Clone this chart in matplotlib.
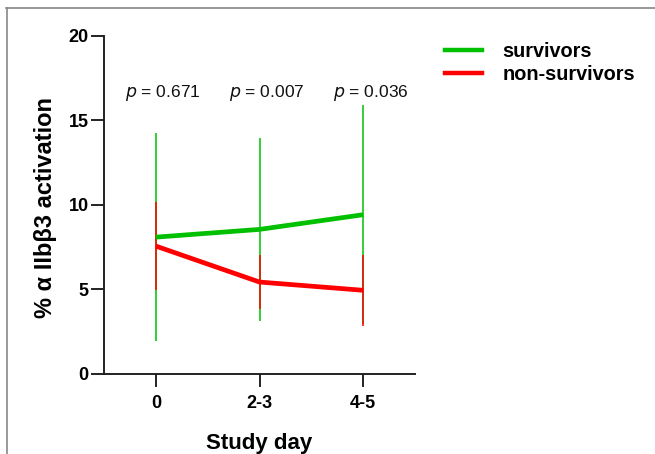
import numpy as np
import matplotlib.pyplot as plt
from matplotlib.lines import Line2D

plt.rcParams['font.family'] = ['Liberation Sans', 'DejaVu Sans']

# study days and group means / SD
days = ['0', '2-3', '4-5']
surv_mean = [8.08, 8.54, 9.41]
surv_sd = [6.15, 5.4, 6.5]
nonsurv_mean = [7.55, 5.42, 4.93]
nonsurv_sd = [2.63, 1.6, 2.1]
p_values = ['0.671', '0.007', '0.036']

green = '#00c000'
red = '#ff0000'

x = np.arange(len(days))

fig = plt.figure(figsize=(6.55, 4.54), dpi=100)
ax = fig.add_axes([104/655, 1-373.5/454, (415-104)/655, (373.5-36)/454])

# error bars first, no caps
ax.errorbar(x, surv_mean, yerr=surv_sd, fmt='none', ecolor=green, elinewidth=1.1, capsize=0, zorder=2)
ax.errorbar(x, nonsurv_mean, yerr=nonsurv_sd, fmt='none', ecolor=red, elinewidth=1.1, capsize=0, zorder=3)
ax.plot(x, surv_mean, color=green, lw=3.4, solid_capstyle='butt', zorder=4)
ax.plot(x, nonsurv_mean, color=red, lw=3.4, solid_capstyle='butt', zorder=4)

# p values above each day
for xi, p in zip(x, p_values):
    ax.text(xi + 0.07, 16.6, '$\\it{p}$ = ' + p, ha='center', va='center', fontsize=12.5, color='#111111')

ax.set_xlim(-0.5, 2.5)
ax.set_ylim(0, 20)
ax.set_yticks([0, 5, 10, 15, 20])
ax.set_xticks(x)
ax.set_xticklabels(days)
for sp in ['top', 'right']:
    ax.spines[sp].set_visible(False)
for sp in ['left', 'bottom']:
    ax.spines[sp].set_linewidth(1.4)
    ax.spines[sp].set_color('#222222')
ax.tick_params(length=9.5, width=1.4, color='#222222', labelsize=13)
ax.tick_params(axis='y', pad=1.5)
ax.tick_params(axis='x', pad=6)
for lab in ax.get_xticklabels() + ax.get_yticklabels():
    lab.set_fontweight('bold')

fig.text(259.5/655, 1-443/454, 'Study day', fontsize=16, fontweight='bold', ha='center', va='center')
fig.text(46/655, 1-207/454, '% α IIbβ3 activation', fontsize=17, fontweight='bold',
         rotation=90, ha='center', va='center')

handles = [Line2D([], [], color=green, lw=3.2), Line2D([], [], color=red, lw=3.2)]
fig.legend(handles, ['survivors', 'non-survivors'], loc='upper left',
           bbox_to_anchor=(445/655, 1-42/454), frameon=False, borderpad=0, borderaxespad=0,
           prop={'size': 14.3, 'weight': 'bold'}, handlelength=1.86,
           handletextpad=1.05, labelspacing=0.2)

# screenshot frame lines (top and left)
fig.add_artist(Line2D([6/655, 1], [1-8/454, 1-8/454], color='#888888', lw=1.2))
fig.add_artist(Line2D([7/655, 7/655], [0, 1-8/454], color='#888888', lw=1.2))

fig.savefig('out.png', dpi=100)
